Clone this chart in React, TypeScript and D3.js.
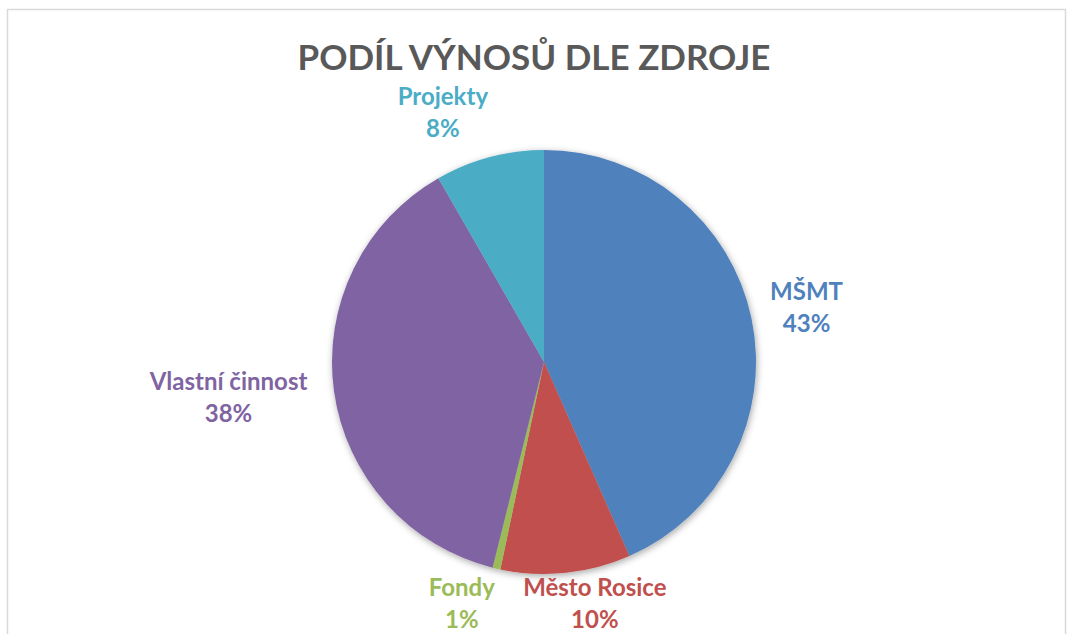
import React from "react";
import * as d3 from "d3";

const categories = ["MŠMT", "Město Rosice", "Fondy", "Vlastní činnost", "Projekty"];
const values = [43.4, 9.9, 0.6, 37.8, 8.3];
const colors = ["#4F81BD", "#C0504D", "#9BBB59", "#8064A2", "#4BACC6"];
const title = "PODÍL VÝNOSŮ DLE ZDROJE";

// label nudges (layout only)
const labelNudge: [number, number][] = [
  [14, 0],
  [20, -13],
  [-24, -7],
  [-4, 2],
  [-30, 0],
];

const W = 1067;
const H = 634;
const cx = 544;
const cy = 362;
const R = 212;
const FONT = "Lato, 'Open Sans', sans-serif";

export default function App() {
  const pie = d3
    .pie<number>()
    .sort(null)
    .value((d) => d)
    .startAngle(0)
    .endAngle(2 * Math.PI);
  const arcs = pie(values);
  const arcGen = d3.arc<d3.PieArcDatum<number>>().innerRadius(0).outerRadius(R);
  const fmt = (v: number) => `${Math.round(v)}%`;

  const labels = arcs.map((a, i) => {
    const th = (a.startAngle + a.endAngle) / 2;
    const s = Math.sin(th);
    const c = -Math.cos(th);
    const g = R + 20;
    const px = s * g;
    const py = c * g;
    const fontSize = 24;
    const w = categories[i].length * 11;
    const h = 50;
    const lx = px + s * (w / 2) + labelNudge[i][0];
    const ly = py + c * (h / 2) + labelNudge[i][1];
    return { lx, ly, fontSize };
  });

  return (
    <svg
      width={W}
      height={H}
      style={{ position: "absolute", left: 0, top: 0 }}
      fontFamily={FONT}
    >
      <defs>
        <filter id="sh" x="-20%" y="-20%" width="140%" height="140%">
          <feDropShadow dx="1" dy="2" stdDeviation="3.5" floodColor="#000" floodOpacity="0.35" />
        </filter>
      </defs>
      <rect x={0} y={0} width={W} height={H} fill="#fff" />
      <rect x={7.5} y={9.5} width={1058} height={640} fill="#fff" stroke="#D9D9D9" strokeWidth={1.5} />
      <text
        x={534}
        y={70}
        textAnchor="middle"
        fontSize={35}
        fontWeight={700}
        fill="#595959"
      >
        {title}
      </text>
      <g transform={`translate(${cx},${cy})`}>
        <g filter="url(#sh)">
          {arcs.map((a, i) => (
            <path key={i} d={arcGen(a) || ""} fill={colors[i]} />
          ))}
        </g>
        {arcs.map((a, i) => (
          <text
            key={i}
            x={labels[i].lx}
            y={labels[i].ly}
            textAnchor="middle"
            fontSize={labels[i].fontSize}
            fontWeight={700}
            fill={colors[i]}
          >
            <tspan x={labels[i].lx} dy={-9}>
              {categories[i]}
            </tspan>
            <tspan x={labels[i].lx} dy={32}>
              {fmt(values[i])}
            </tspan>
          </text>
        ))}
      </g>
    </svg>
  );
}
